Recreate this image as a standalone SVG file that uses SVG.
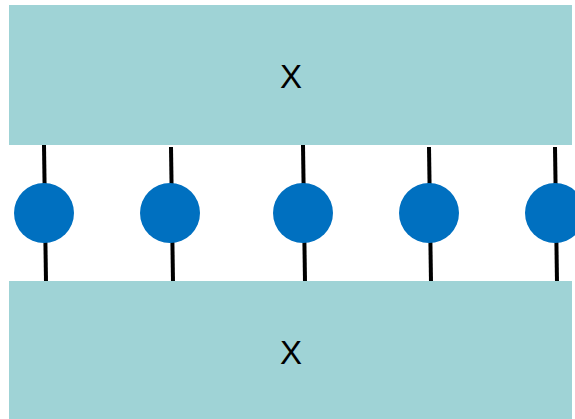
<svg xmlns="http://www.w3.org/2000/svg" width="575" height="419" viewBox="0 0 575 419">
<style>
.box{fill:#9fd3d6}
.lbl{font-family:"Liberation Sans",Arial,sans-serif;font-size:33px;fill:#000;text-anchor:middle}
.wire{stroke:#000;stroke-width:4;fill:none}
.dot{fill:#0070c0}
</style>
<rect width="575" height="419" fill="#fff"/>
<g id="connectors">
<line class="wire" x1="44" y1="145" x2="46" y2="282"/>
<line class="wire" x1="171" y1="147" x2="173" y2="282"/>
<line class="wire" x1="303" y1="145" x2="305" y2="282"/>
<line class="wire" x1="429" y1="147" x2="431" y2="282"/>
<line class="wire" x1="555" y1="147" x2="557" y2="282"/>
</g>
<g id="top"><rect class="box" x="9" y="5" width="563" height="140"/><text class="lbl" x="291" y="88">X</text></g>
<g id="bottom"><rect class="box" x="9" y="281" width="563" height="138"/><text class="lbl" x="291" y="364">X</text></g>
<g id="n1"><circle class="dot" cx="44" cy="213" r="30"/></g>
<g id="n2"><circle class="dot" cx="170" cy="213" r="30"/></g>
<g id="n3"><circle class="dot" cx="303" cy="213" r="30"/></g>
<g id="n4"><circle class="dot" cx="429" cy="213" r="30"/></g>
<g id="n5"><circle class="dot" cx="555" cy="213" r="30"/></g>
</svg>
